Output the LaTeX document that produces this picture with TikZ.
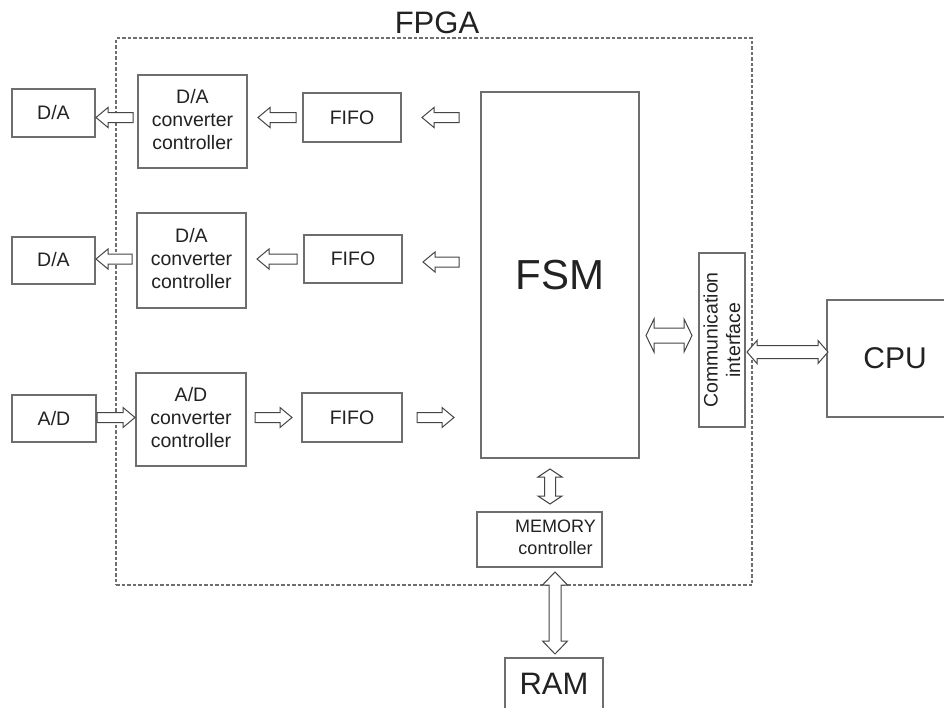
\documentclass[tikz,border=0pt]{standalone}
\usepackage{fontspec}
\setmainfont{Liberation Sans}
\usetikzlibrary{calc}
\definecolor{boxgray}{HTML}{6E6E6E}
\definecolor{arrgray}{HTML}{454545}
\definecolor{txtgray}{HTML}{222222}
\newcommand\upbox[2]{\raisebox{#1}{\begin{tabular}{@{}c@{}}#2\end{tabular}}}
% single block arrow: #1 tail, #2 tip, #3 shaft half width, #4 head half width, #5 head length
\newcommand\sarrow[5]{%
  \coordinate (tmpC) at ($(#2)!#5!(#1)$);
  \draw[blk] ($(#1)!#3!90:(#2)$) -- ($(tmpC)!#3!90:(#2)$) -- ($(tmpC)!#4!90:(#2)$) -- (#2)
    -- ($(tmpC)!#4!-90:(#2)$) -- ($(tmpC)!#3!-90:(#2)$) -- ($(#1)!#3!-90:(#2)$) -- cycle;}
% double block arrow between #1 and #2
\newcommand\darrow[5]{%
  \coordinate (tmpA) at ($(#1)!#5!(#2)$);
  \coordinate (tmpB) at ($(#2)!#5!(#1)$);
  \draw[blk] (#1) -- ($(tmpA)!#4!90:(#2)$) -- ($(tmpA)!#3!90:(#2)$) -- ($(tmpB)!#3!-90:(#1)$)
    -- ($(tmpB)!#4!-90:(#1)$) -- (#2) -- ($(tmpB)!#4!90:(#1)$) -- ($(tmpB)!#3!90:(#1)$)
    -- ($(tmpA)!#3!-90:(#2)$) -- ($(tmpA)!#4!-90:(#2)$) -- cycle;}
\begin{document}
\begin{tikzpicture}[x=1pt,y=-1pt,
  box/.style={draw=boxgray, line width=2pt, fill=white, inner sep=0pt, align=center,
    text=txtgray, font=\fontsize{19.5}{23}\selectfont},
  blk/.style={draw=arrgray, line width=1pt, fill=white, line join=miter},
  fpgabox/.style={draw=boxgray, line width=1.6pt, dash pattern=on 3.5pt off 2pt, inner sep=0pt},
  bigtxt/.style={text=txtgray, inner sep=0pt}]
\useasboundingbox (0,0) rectangle (944,707);
\fill[white] (0,0) rectangle (944,707);

% FPGA frame
\node[fpgabox, minimum width=636pt, minimum height=547pt] (fpga) at (434,311.5) {};
\node[bigtxt, anchor=base, font=\fontsize{31}{36}\selectfont] (fpgalbl) at (437,33) {FPGA};

% left column
\node[box, minimum width=83pt, minimum height=48pt] (da1) at (53.5,113) {D/A};
\node[box, minimum width=83pt, minimum height=47pt] (da2) at (53.5,260) {D/A};
\node[box, minimum width=84pt, minimum height=47pt] (ad) at (54,418.5) {A/D};

% converter controllers
\node[box, minimum width=109pt, minimum height=93pt] (ctrl1) at (192.5,121.5) {\upbox{5pt}{D/A\\converter\\controller}};
\node[box, minimum width=109pt, minimum height=95pt] (ctrl2) at (191.5,260.5) {\upbox{5pt}{D/A\\converter\\controller}};
\node[box, minimum width=110pt, minimum height=93pt] (ctrl3) at (191,419.5) {\upbox{5pt}{A/D\\converter\\controller}};

% FIFOs
\node[box, minimum width=98pt, minimum height=49pt] (fifo1) at (352,117.5) {FIFO};
\node[box, minimum width=98pt, minimum height=48pt] (fifo2) at (353,259) {FIFO};
\node[box, minimum width=100pt, minimum height=49pt] (fifo3) at (352,417.5) {FIFO};

% FSM
\node[box, minimum width=158pt, minimum height=366pt, font=\fontsize{42}{48}\selectfont] (fsm) at (560,275) {FSM};

% communication interface
\node[box, minimum width=46pt, minimum height=174pt] (comm) at (722,340) {};
\node[bigtxt, rotate=90, align=center, font=\fontsize{19.5}{22.5}\selectfont] (commtxt) at (comm.center) {Communication\\interface};

% CPU
\node[box, minimum width=136pt, minimum height=117pt, font=\fontsize{30}{36}\selectfont] (cpu) at (895,358.5) {\raisebox{-2pt}{CPU}};

% memory controller
\node[box, minimum width=125pt, minimum height=55pt, font=\fontsize{18}{22}\selectfont] (mem) at (539.5,539.5) {\hspace*{32pt}\upbox{0pt}{MEMORY\\controller}};

% RAM
\node[box, minimum width=98pt, minimum height=54pt, font=\fontsize{31}{36}\selectfont] (ram) at (554,685) {\raisebox{2pt}{RAM}};

% arrow end points, row 1
\coordinate (r1a) at ($(ctrl1.west |- fifo1)+(-4,0)$);
\coordinate (r1b) at (da1.east |- fifo1);
\coordinate (r1c) at ($(fifo1.west)+(-6,0)$);
\coordinate (r1d) at ($(ctrl1.east |- fifo1)+(10,0)$);
\coordinate (r1e) at ($(fsm.west |- fifo1)+(-21,0)$);
\coordinate (r1f) at ($(fifo1.east)+(20,0)$);
% row 2
\coordinate (r2a) at ($(ctrl2.west |- fifo2)+(-4,0)$);
\coordinate (r2b) at (da2.east |- fifo2);
\coordinate (r2c) at ($(fifo2.west)+(-6,0)$);
\coordinate (r2d) at ($(ctrl2.east |- fifo2)+(10,0)$);
\coordinate (r2e) at ($(fsm.west |- fifo2)+(-21,3)$);
\coordinate (r2f) at ($(fifo2.east)+(20,3)$);
% row 3
\coordinate (r3a) at (ad.east |- fifo3);
\coordinate (r3b) at (ctrl3.west |- fifo3);
\coordinate (r3c) at ($(ctrl3.east |- fifo3)+(8,0)$);
\coordinate (r3d) at ($(fifo3.west)+(-9,0)$);
\coordinate (r3e) at ($(fifo3.east)+(14,0)$);
\coordinate (r3f) at ($(fsm.west |- fifo3)+(-26,0)$);
% double arrows
\coordinate (d1a) at ($(fsm.east |- comm)+(6,-4.5)$);
\coordinate (d1b) at ($(comm.west)+(-6,-4.5)$);
\coordinate (d2a) at ($(comm.east)+(1,12)$);
\coordinate (d2b) at ($(cpu.west |- comm)+(2,12)$);
\coordinate (d3a) at ($(fsm.south)+(-10,10)$);
\coordinate (d3b) at ($(mem.north -| d3a)+(0,-7)$);
\coordinate (d4a) at ($(mem.south)+(15.5,4)$);
\coordinate (d4b) at ($(ram.north)+(1,-3)$);

% single arrows
\sarrow{r1a}{r1b}{5pt}{10pt}{12pt}
\sarrow{r1c}{r1d}{5pt}{10pt}{12pt}
\sarrow{r1e}{r1f}{5pt}{10pt}{12pt}
\sarrow{r2a}{r2b}{5pt}{10pt}{12pt}
\sarrow{r2c}{r2d}{5pt}{10pt}{12pt}
\sarrow{r2e}{r2f}{5pt}{10pt}{12pt}
\sarrow{r3a}{r3b}{5pt}{10pt}{12pt}
\sarrow{r3c}{r3d}{5pt}{10pt}{12pt}
\sarrow{r3e}{r3f}{5pt}{10pt}{12pt}
% double arrows
\darrow{d1a}{d1b}{7.5pt}{16.5pt}{8pt}
\darrow{d2a}{d2b}{6.5pt}{11.5pt}{10pt}
\darrow{d3a}{d3b}{5.5pt}{12pt}{8pt}
\darrow{d4a}{d4b}{6pt}{12.5pt}{13pt}
\end{tikzpicture}
\end{document}
